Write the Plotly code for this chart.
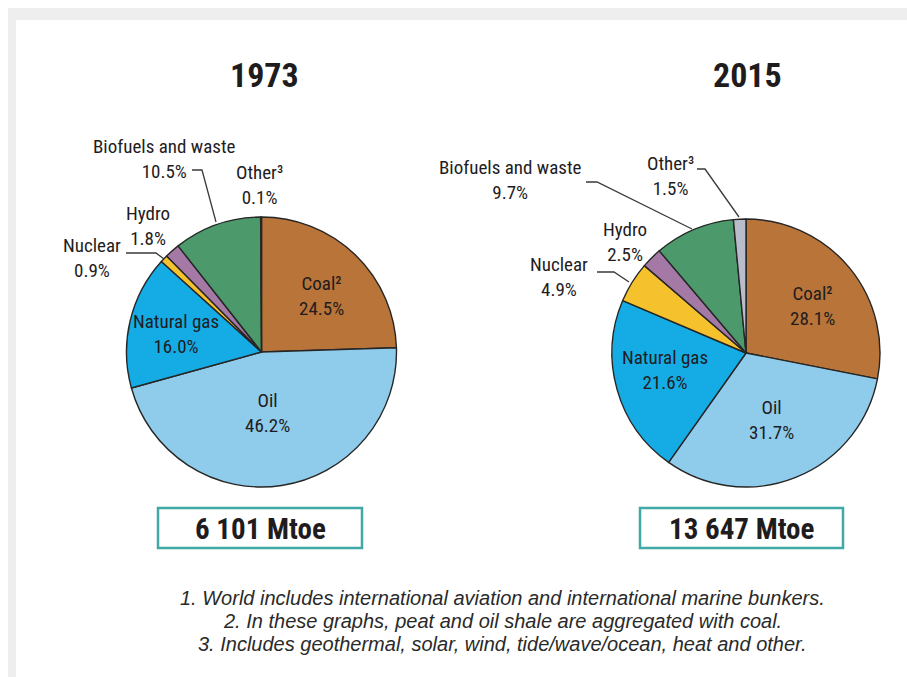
import plotly.graph_objects as go

# ---------------- data ----------------
categories = ["Coal²", "Oil", "Natural gas", "Nuclear", "Hydro", "Biofuels and waste", "Other³"]
share_1973 = [24.5, 46.2, 16.0, 0.9, 1.8, 10.5, 0.1]
share_2015 = [28.1, 31.7, 21.6, 4.9, 2.5, 9.7, 1.5]
years = ["1973", "2015"]
totals = ["6 101 Mtoe", "13 647 Mtoe"]
footnotes = [
    "1. World includes international aviation and international marine bunkers.",
    "2. In these graphs, peat and oil shale are aggregated with coal.",
    "3. Includes geothermal, solar, wind, tide/wave/ocean, heat and other.",
]
slice_colors = ["#b87439", "#8fcbea", "#15ace6", "#f5c12c", "#a479a6", "#4c9a6c", "#b9bcca"]

# ---------------- layout helpers ----------------
W, H = 907, 677
NARROW = "Liberation Sans Narrow, Arial Narrow, Roboto Condensed, Liberation Sans, Arial, sans-serif"
TXT = "#1f1c1d"


def px(x, y):
    return x / W, 1 - y / H


def domain(cx, cy, r):
    return dict(x=[(cx - r) / W, (cx + r) / W], y=[1 - (cy + r) / H, 1 - (cy - r) / H])


pie_geo = [(261.5, 352, 135), (746, 353, 134)]
shares = [share_1973, share_2015]

fig = go.Figure()
for (cx, cy, r), vals in zip(pie_geo, shares):
    fig.add_trace(go.Pie(
        labels=categories, values=vals, sort=False, direction="clockwise", rotation=0,
        marker=dict(colors=slice_colors, line=dict(color="#262626", width=1.4)),
        textinfo="none", hoverinfo="label+percent", showlegend=False,
        domain=domain(cx, cy, r),
    ))

ann = []


def label(text, x, y, size=19, font=NARROW, color=TXT, **kw):
    ax, ay = px(x, y)
    ann.append(dict(text=text, x=ax, y=ay, xref="paper", yref="paper", showarrow=False,
                    xanchor="center", yanchor="middle", align="center",
                    font=dict(family=font, size=size, color=color), **kw))


def cat_text(i, vals):
    return f"{categories[i]}<br>{vals[i]:.1f}%"


# label centres per pie (pixel positions of the text blocks)
label_pos = [
    {0: (321, 296), 1: (267, 413), 2: (176, 334), 3: (92, 258), 4: (148, 226), 5: (164, 159), 6: (259, 185)},
    {0: (812, 306), 1: (771, 420), 2: (665, 370), 3: (559, 277), 4: (625, 242), 5: (510, 180), 6: (670, 176)},
]
for k, vals in enumerate(shares):
    for i, (x, y) in label_pos[k].items():
        label(cat_text(i, vals), x, y)

# titles
for yr, x in zip(years, [264, 747]):
    label(f"<b>{yr}</b>", x, 75, size=34)

# total boxes
shapes = []
boxes = [(158, 362), (640, 843)]
for t, (x0, x1) in zip(totals, boxes):
    shapes.append(dict(type="rect", xref="paper", yref="paper",
                       x0=x0 / W, x1=x1 / W, y0=1 - 548 / H, y1=1 - 508 / H,
                       line=dict(color="#40a8a6", width=2.5), fillcolor="white"))
    label(f"<b>{t}</b>", (x0 + x1) / 2, 529, size=29)

# footnotes
for t, y in zip(footnotes, [598, 621, 644]):
    label(f"<i>{t}</i>", 502, y, size=20, font="Liberation Sans, Arial, sans-serif", color="#2a2a2a")

# leader lines
leaders = [
    [(192, 170), (202, 170), (216, 222)],
    [(126, 253), (156, 253), (164, 259)],
    [(586, 182), (597, 182), (692, 229)],
    [(697, 169), (705, 169), (739, 217)],
    [(597, 272), (614, 272), (629, 282)],
]
for pts in leaders:
    path = "M " + " L ".join(f"{x / W},{1 - y / H}" for x, y in pts)
    shapes.append(dict(type="path", xref="paper", yref="paper", path=path,
                       line=dict(color="#3a3a3a", width=1.3)))

# grey frame bands
shapes.append(dict(type="rect", xref="paper", yref="paper", x0=8 / W, x1=1, y0=1 - 20 / H, y1=1 - 8 / H,
                   line=dict(width=0), fillcolor="#eeeeee", layer="below"))
shapes.append(dict(type="rect", xref="paper", yref="paper", x0=8 / W, x1=16 / W, y0=0, y1=1 - 8 / H,
                   line=dict(width=0), fillcolor="#eeeeee", layer="below"))

fig.update_layout(
    width=W, height=H, margin=dict(l=0, r=0, t=0, b=0),
    paper_bgcolor="white", plot_bgcolor="white",
    annotations=ann, shapes=shapes,
)
fig.write_html("out.html", config={"displayModeBar": False},
               post_script="document.body.style.margin='0';document.body.style.overflow='hidden';")
